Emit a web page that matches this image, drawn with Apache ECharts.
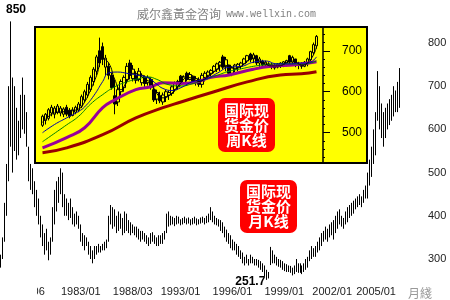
<!DOCTYPE html>
<html><head><meta charset="utf-8">
<script src="https://cdn.jsdelivr.net/npm/echarts@6/dist/echarts.min.js"></script>
<style>html,body{margin:0;padding:0;background:#fff}#c{width:450px;height:300px}</style>
</head><body><div id="c"></div>
<script>
// ---- monthly bars (low / high) ----
const monthLow = [
280,300,340,400,480,560,500,550,530,540,
580,600,590,560,480,460,450,420,400,380,
350,330,310,320,297,310,340,380,410,430,
450,420,400,400,390,395,380,375,380,370,
340,330,320,330,310,300,290,300,310,315,
315,320,320,325,340,380,370,375,360,365,
370,355,360,365,360,355,360,355,350,345,
340,345,340,335,330,335,340,335,330,330,
335,335,345,360,375,378,380,376,380,382,
378,380,383,380,382,378,380,382,378,380,
382,384,380,383,385,390,385,380,378,375,
365,360,350,340,335,325,320,320,310,305,
300,290,285,290,285,290,290,285,285,280,
275,270,260,251.7,255,286,290,290,285,282,
280,275,272,270,270,268,262,265,270,268,
268,265,270,275,280,295,300,305,305,315,
320,330,340,345,340,350,355,345,360,370,
380,375,370,380,385,395,400,405,415,420,
425,420,430,440,440,470,490,520,540,620,
600,580,560,580,600,610,620,630,640,640,
650];
const monthHigh = [
310,350,430,520,700,850,720,700,650,620,
680,720,680,640,560,520,510,480,460,440,
400,380,360,370,340,350,420,460,480,490,
510,500,450,440,430,440,420,405,410,400,
380,360,355,350,340,330,320,330,330,335,
330,335,340,345,400,425,420,415,400,410,
405,395,410,405,390,385,380,375,375,370,
365,365,360,355,350,360,362,355,350,355,
355,360,365,405,410,400,398,395,400,398,
392,395,398,394,396,392,395,398,394,392,
396,398,395,400,405,420,410,400,395,392,
390,385,375,368,360,355,345,340,335,330,
320,315,305,310,300,310,305,300,300,298,
295,290,285,275,270,328,320,310,305,300,
298,295,290,288,285,284,280,285,300,290,
290,285,290,300,305,320,330,325,330,340,
350,360,365,375,370,380,385,390,400,410,
415,400,395,410,420,425,430,435,440,445,
450,445,460,470,500,530,560,600,640,735,
700,660,640,650,660,670,680,700,690,710,
742];
const xTickIndex = [12, 40, 66, 90, 116, 142, 166, 188];
const xTickText = ['1980/06','1983/01','1988/03','1993/01','1996/01','1999/01','2002/01','2005/01'];

// ---- weekly K (open, close, low, high) ----
const weeklyK = [
[518,540,514,544],[530,545,520,548],[535,556,530,560],[548,562,540,568],[545,560,535,565],
[550,565,545,570],[548,560,540,565],[545,558,538,562],[562,545,540,568],[555,540,535,560],
[542,556,540,562],[550,562,545,566],[555,570,550,575],[565,588,560,593],[580,600,575,605],
[592,618,585,624],[605,635,600,640],[625,655,615,660],[650,685,640,690],[700,670,660,732],
[710,680,665,720],[660,682,640,690],[662,640,630,670],[640,610,605,646],[590,570,545,630],
[575,605,565,615],[600,625,590,630],[610,635,600,640],[630,662,620,670],[670,640,630,678],
[632,655,625,665],[640,628,620,650],[630,650,625,658],[622,640,615,645],[635,620,612,640],
[622,635,615,640],[630,610,605,635],[605,580,575,610],[582,598,570,605],[590,578,572,600],
[575,592,568,598],[588,600,575,605],[592,598,580,603],[596,612,590,615],[605,620,600,625],
[612,625,605,629],[638,622,615,641],[622,636,620,640],[645,630,625,649],[630,642,628,648],
[638,625,620,640],[625,632,615,638],[630,618,612,635],[618,640,610,646],[635,645,625,650],
[640,648,630,652],[645,652,635,655],[650,662,645,665],[655,668,648,671],[665,672,650,675],
[685,660,655,690],[662,678,650,685],[665,645,640,666],[645,658,638,662],[655,665,648,668],
[660,667,650,670],[662,670,655,673],[668,680,665,683],[675,688,670,690],[692,678,672,695],
[680,690,670,695],[688,670,665,690],[670,680,661,685],[675,665,660,678],[665,672,662,676],
[668,660,658,672],[660,666,655,670],[665,658,654,668],[660,667,657,670],[664,670,658,672],
[668,673,660,675],[670,676,662,678],[688,672,668,690],[672,684,666,688],[680,665,660,680],
[665,670,655,673],[668,662,656,672],[662,672,660,675],[668,680,662,683],[678,698,673,700],
[695,715,690,720],[712,735,705,738.3]];

// moving averages: [week index, value]
const ma5 = [[0,525],[4,548],[8,552],[12,558],[14,575],[16,605],[18,640],[20,680],[22,670],[24,630],[26,605],[28,625],[30,645],[32,642],[34,630],[36,622],[38,595],[40,585],[42,590],[44,605],[46,622],[48,635],[50,632],[52,625],[54,632],[56,642],[58,655],[60,665],[62,662],[64,657],[66,662],[68,675],[70,682],[72,675],[74,668],[76,663],[78,663],[80,666],[82,675],[84,673],[86,665],[88,670],[90,690],[91,710]];
const ma10 = [[0,500],[4,520],[8,536],[12,552],[14,563],[17,590],[20,625],[22,646],[25,648],[28,645],[31,641],[35,634],[38,618],[40,608],[43,603],[46,610],[50,625],[54,630],[58,645],[62,660],[66,662],[70,672],[74,675],[78,668],[82,668],[86,670],[88,670],[91,685]];
const ma20 = [[0,478],[8,519],[12,540],[16,570],[20,593],[24,612],[28,624],[32,632],[35,636],[38,630],[42,617],[46,614],[50,620],[54,630],[58,640],[62,650],[66,656],[70,662],[74,666],[78,668],[82,668],[86,667],[91,675]];
const ma60 = [[0,463],[8,488],[14,512],[20,561],[24,580],[31,605],[36,612],[40,622],[46,620],[50,622],[56,635],[62,641],[70,655],[76,662],[84,666],[91,673]];
const ma120 = [[0,451],[8,463],[20,495],[31,536],[40,561],[46,575],[57,600],[68,624],[79,641],[86,644],[91,649]];

const monthCats = monthLow.map((_, i) => String(i));
const weekCats = weeklyK.map((_, i) => String(i));
const monthK = monthLow.map((l, i) => [l, monthHigh[i], l, monthHigh[i]]);

const chart = echarts.init(document.getElementById('c'), null, {renderer: 'canvas'});
const ma = (data, color, w, z) => ({
  type: 'line', xAxisIndex: 1, yAxisIndex: 1, data, smooth: true, symbol: 'none',
  lineStyle: {color, width: w}, z, silent: true
});
chart.setOption({
  animation: false,
  backgroundColor: '#fff',
  title: {
    left: 132, top: 0,
    text: '{a|威尔鑫黃金咨询} {b|www.wellxin.com}',
    textStyle: {fontWeight: 'normal', rich: {
      a: {fontFamily: 'Noto Sans CJK SC', fontSize: 12, fontWeight: 'normal', color: '#808080'},
      b: {fontFamily: 'Liberation Mono', fontSize: 10, fontWeight: 'normal', color: '#808080'}
    }}
  },
  grid: [
    {left: -1, top: 21.4, width: 402, height: 259.2},
    {left: 41, right: 132, top: 27, bottom: 137, z: 15}
  ],
  xAxis: [
    {type: 'category', gridIndex: 0, data: monthCats, boundaryGap: true,
     axisLine: {show: false}, axisTick: {show: false},
     axisLabel: {interval: (i) => xTickIndex.includes(i), margin: 6,
       formatter: (v, i) => { const k = xTickIndex.indexOf(i); return k >= 0 ? xTickText[k] : ''; },
       fontFamily: 'Liberation Sans', fontSize: 11, color: '#222'}},
    {type: 'category', gridIndex: 1, data: weekCats, boundaryGap: true, show: false}
  ],
  yAxis: [
    {type: 'value', gridIndex: 0, position: 'right', min: 250, max: 850, splitNumber: 5,
     axisLine: {show: false}, axisTick: {show: false}, splitLine: {show: false},
     axisLabel: {showMinLabel: false, showMaxLabel: false, margin: 27,
       formatter: (v) => v % 100 === 0 ? String(v) : '',
       fontFamily: 'Liberation Sans', fontSize: 11, color: '#222'}},
    {type: 'value', gridIndex: 1, position: 'right', offset: 5, min: 426, max: 758, splitNumber: 3, z: 20,
     axisLine: {show: true, lineStyle: {color: '#000', width: 1.5}},
     axisTick: {show: true, length: 7, lineStyle: {color: '#000', width: 1}},
     minorTick: {show: true, splitNumber: 5, length: 2, lineStyle: {color: '#000', width: 1}},
     splitLine: {show: false},
     axisLabel: {showMinLabel: false, showMaxLabel: false, margin: 19,
       formatter: (v) => v % 100 === 0 ? String(v) : '',
       fontFamily: 'Liberation Sans', fontSize: 12, color: '#000'}}
  ],
  series: [
    {type: 'candlestick', xAxisIndex: 0, yAxisIndex: 0, data: monthK, barWidth: 1.1, z: 2,
     itemStyle: {color: '#000', color0: '#000', borderColor: '#000', borderColor0: '#000', borderWidth: 1},
     markPoint: {
       symbol: 'rect', symbolSize: 1, itemStyle: {color: 'rgba(0,0,0,0)'},
       data: [
         {type: 'max', valueDim: 'highest', label: {offset: [5, -12], formatter: (p) => String(p.value)}},
         {type: 'min', valueDim: 'lowest', label: {offset: [-16, 2], formatter: (p) => p.value.toFixed(1)}}
       ],
       label: {show: true, position: 'inside', fontFamily: 'Liberation Sans', fontWeight: 'bold', fontSize: 12, color: '#000'}
     }},
    {type: 'candlestick', xAxisIndex: 1, yAxisIndex: 1, data: weeklyK, barWidth: 3, z: 20,
     itemStyle: {color: '#ffff00', color0: '#000', borderColor: '#000', borderColor0: '#000', borderWidth: 1},
     markPoint: {
       symbol: 'rect', symbolSize: 1, itemStyle: {color: 'rgba(0,0,0,0)'},
       data: [{type: 'max', valueDim: 'highest', label: {offset: [-33, 4], formatter: (p) => p.value.toFixed(2)}}],
       label: {show: true, position: 'inside', fontFamily: 'Liberation Sans', fontSize: 12, color: '#8a8a8a'}
     }},
    ma(ma120, '#990000', 3, 21),
    ma(ma60, '#990099', 3, 22),
    ma(ma20, '#008000', 1, 23),
    ma(ma10, '#0000aa', 1, 24),
    ma(ma5, '#000000', 1, 25)
  ],
  graphic: [
    {type: 'rect', z: 10, silent: true, shape: {x: 35, y: 27, width: 332, height: 136},
     style: {fill: '#ffff00', stroke: '#000', lineWidth: 2}},
    {type: 'rect', z: 30, silent: true, shape: {x: 218, y: 98, width: 57, height: 54, r: 7},
     style: {fill: '#ff0000'}},
    {type: 'text', z: 31, silent: true, x: 246.5, y: 125,
     style: {text: '国际现\n货金价\n周K线', fill: '#fff', font: 'bold 15px "Noto Sans CJK SC"',
       align: 'center', verticalAlign: 'middle', lineHeight: 15}},
    {type: 'rect', z: 5, silent: true, shape: {x: 240, y: 180, width: 57, height: 53, r: 7},
     style: {fill: '#ff0000'}},
    {type: 'text', z: 6, silent: true, x: 268.5, y: 206.5,
     style: {text: '国际现\n货金价\n月K线', fill: '#fff', font: 'bold 15px "Noto Sans CJK SC"',
       align: 'center', verticalAlign: 'middle', lineHeight: 15}},
    {type: 'text', z: 6, silent: true, x: 408, y: 287,
     style: {text: '月綫', fill: '#999', font: '12px "Noto Sans CJK SC"'}},
    {type: 'rect', z: 100, silent: true, shape: {x: 0, y: 284, width: 37, height: 16},
     style: {fill: '#fff'}}
  ]
});
</script></body></html>
